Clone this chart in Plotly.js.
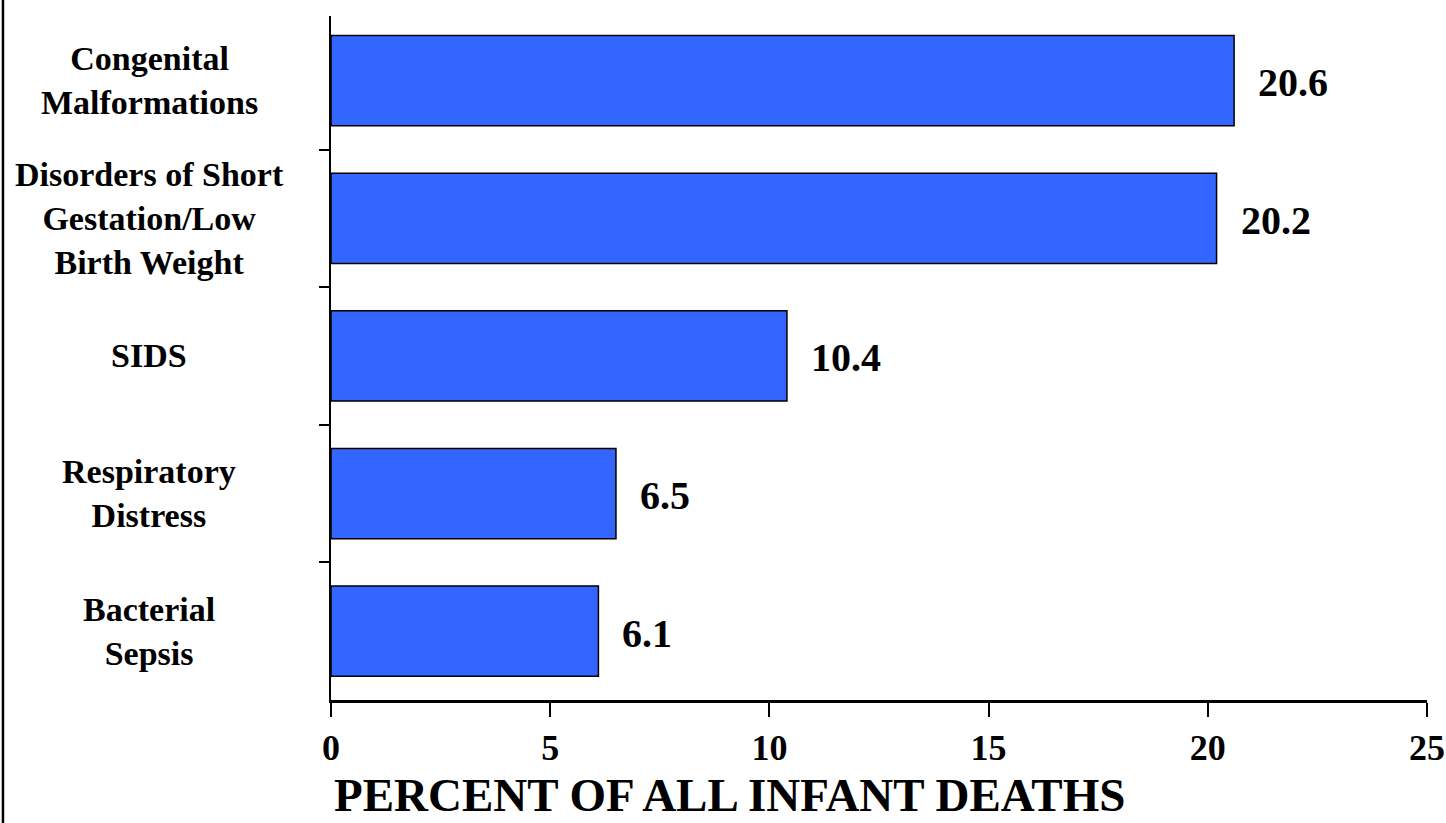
<!DOCTYPE html>
<html>
<head>
<meta charset="utf-8">
<script src="https://cdn.plot.ly/plotly-3.0.1.min.js"></script>
<style>
  html, body { margin: 0; padding: 0; background: #ffffff; }
  #chart { width: 1446px; height: 823px; }
</style>
</head>
<body>
<div id="chart"></div>
<script>
// Leading causes of infant death, share of all infant deaths (%)
const causes = [
  "Congenital<br>Malformations",
  "Disorders of Short<br>Gestation/Low<br>Birth Weight",
  "SIDS",
  "Respiratory<br>Distress",
  "Bacterial<br>Sepsis"
];
const percents = [20.6, 20.2, 10.4, 6.5, 6.1];
const valueLabels = ["20.6", "20.2", "10.4", "6.5", "6.1"];
const xTicks = [0, 5, 10, 15, 20, 25];

const serif = "'Liberation Serif', 'Times New Roman', Times, serif";

const trace = {
  type: "bar",
  orientation: "h",
  x: percents,
  y: causes,
  marker: { color: "#3366ff", line: { color: "#000000", width: 1.5 } },
  hoverinfo: "x+y"
};

// category names, centred in the left column
const nameNotes = causes.map(c => ({
  xref: "paper", yref: "y",
  x: -0.166, y: c,
  text: c, showarrow: false,
  xanchor: "center", yanchor: "middle", align: "center",
  font: { family: serif, size: 34, color: "#000", weight: "bold" }
}));

// value printed just past the end of each bar
const valueNotes = percents.map((v, i) => ({
  xref: "x", yref: "y",
  x: v, y: causes[i],
  text: valueLabels[i], showarrow: false,
  xanchor: "left", yanchor: "middle", xshift: 22, yshift: -2,
  font: { family: serif, size: 40, color: "#000", weight: "bold" }
}));

const titleNote = {
  xref: "paper", yref: "paper",
  x: 0.364, y: -0.139,
  text: "PERCENT OF ALL INFANT DEATHS", showarrow: false,
  xanchor: "center", yanchor: "middle",
  font: { family: serif, size: 47, color: "#000", weight: "bold" }
};

const layout = {
  width: 1446, height: 823,
  margin: { l: 331, r: 19, t: 16, b: 123 },
  paper_bgcolor: "#ffffff",
  plot_bgcolor: "#ffffff",
  showlegend: false,
  bargap: 0.345,
  font: { family: serif, color: "#000" },
  xaxis: {
    range: [0, 25],
    tickvals: xTicks,
    ticktext: xTicks.map(String),
    ticks: "outside", ticklen: 14, tickwidth: 2, tickcolor: "#000",
    showline: true, linecolor: "#000", linewidth: 2.5,
    showgrid: false, zeroline: false,
    ticklabeloverflow: "allow",
    tickfont: { family: serif, size: 36, color: "#000", weight: "bold" }
  },
  yaxis: {
    type: "category",
    range: [4.5, -0.47],
    tickson: "boundaries",
    ticks: "outside", ticklen: 10, tickwidth: 2, tickcolor: "#000",
    showline: true, linecolor: "#000", linewidth: 2.5,
    showgrid: false, zeroline: false,
    showticklabels: false
  },
  annotations: nameNotes.concat(valueNotes, [titleNote]),
  shapes: [{
    type: "line", xref: "paper", yref: "paper",
    x0: -0.2993, x1: -0.2993, y0: -0.2, y1: 1.03,
    line: { color: "#000", width: 2.5 }
  }]
};

Plotly.newPlot("chart", [trace], layout, { displayModeBar: false, staticPlot: true });
</script>
</body>
</html>
